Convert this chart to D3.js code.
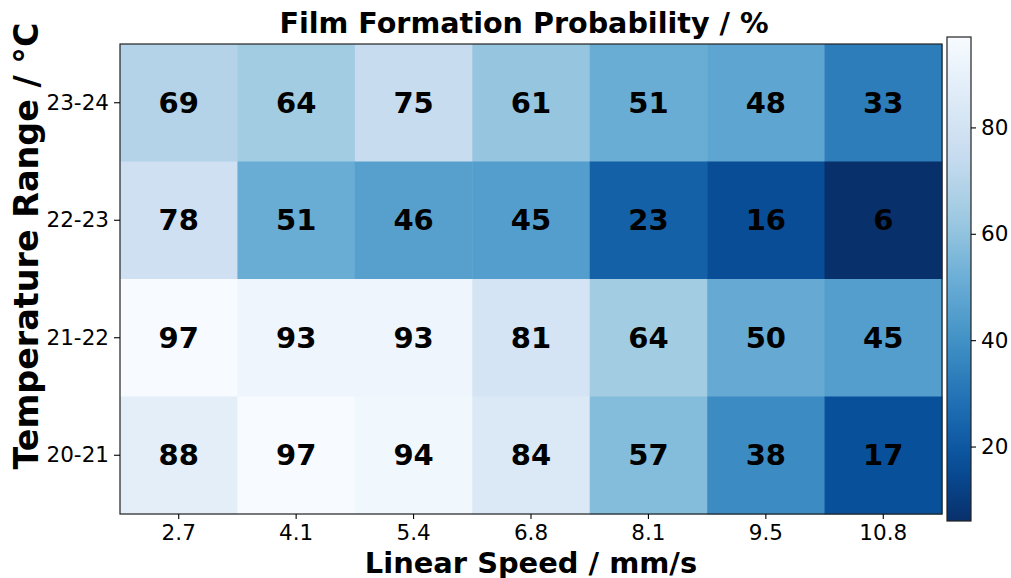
<!DOCTYPE html>
<html>
<head>
<meta charset="utf-8">
<script src="https://cdn.jsdelivr.net/npm/d3@7"></script>
<style>
  html, body { margin: 0; padding: 0; background: #fff; }
  svg { display: block; font-family: "DejaVu Sans", sans-serif; }
</style>
</head>
<body>
<svg id="chart" width="1011" height="578"></svg>
<script>
// Linear speed categories (x) and temperature ranges (y, top to bottom)
const speeds = ["2.7", "4.1", "5.4", "6.8", "8.1", "9.5", "10.8"];
const temps = ["23-24", "22-23", "21-22", "20-21"];

// Film formation probability (%) per temperature row
const row2324 = [69, 64, 75, 61, 51, 48, 33];
const row2223 = [78, 51, 46, 45, 23, 16, 6];
const row2122 = [97, 93, 93, 81, 64, 50, 45];
const row2021 = [88, 97, 94, 84, 57, 38, 17];
const rows = [row2324, row2223, row2122, row2021];

const colorbarTicks = [20, 40, 60, 80];

const svg = d3.select("#chart");
const plot = { left: 120, top: 44, right: 942, bottom: 514 };

const x = d3.scaleBand().domain(speeds).range([plot.left, plot.right]).padding(0);
const y = d3.scaleBand().domain(temps).range([plot.top, plot.bottom]).padding(0);

// Reversed "Blues" colour map, piecewise linear through the nine anchor colours
const blues = ["#f7fbff", "#deebf7", "#c6dbef", "#9ecae1", "#6baed6", "#4292c6", "#2171b5", "#08519c", "#08306b"];
const allVals = rows.flat();
const vmin = d3.min(allVals), vmax = d3.max(allVals);
const t = d3.scaleLinear().domain([vmin, vmax]).range([1, 0]);
const ramp = d3.scaleLinear().domain(d3.range(9).map(i => i / 8)).range(blues).interpolate(d3.interpolateRgb);
const color = v => ramp(t(v));

const cells = [];
rows.forEach((r, i) => r.forEach((v, j) => cells.push({ temp: temps[i], speed: speeds[j], v })));

svg.append("g").selectAll("rect").data(cells).join("rect")
  .attr("x", d => x(d.speed))
  .attr("y", d => y(d.temp))
  .attr("width", x.bandwidth() + 0.5)
  .attr("height", y.bandwidth() + 0.5)
  .attr("fill", d => color(d.v));

svg.append("g").selectAll("text").data(cells).join("text")
  .attr("x", d => x(d.speed) + x.bandwidth() / 2)
  .attr("y", d => y(d.temp) + y.bandwidth() / 2)
  .attr("text-anchor", "middle")
  .attr("dominant-baseline", "central")
  .attr("font-size", 29)
  .attr("font-weight", "bold")
  .attr("fill", "#000")
  .text(d => d.v);

// Frame
svg.append("rect")
  .attr("x", plot.left).attr("y", plot.top)
  .attr("width", plot.right - plot.left).attr("height", plot.bottom - plot.top)
  .attr("fill", "none").attr("stroke", "#222").attr("stroke-width", 1.2);

// Axes
const xAxis = svg.append("g").attr("transform", `translate(0,${plot.bottom})`)
  .call(d3.axisBottom(x).tickSize(5).tickPadding(6));
const yAxis = svg.append("g").attr("transform", `translate(${plot.left},0)`)
  .call(d3.axisLeft(y).tickSize(6).tickPadding(5));
[xAxis, yAxis].forEach(a => {
  a.select(".domain").remove();
  a.selectAll("line").attr("stroke", "#000").attr("stroke-width", 1.1);
  a.selectAll("text").attr("font-size", 21.5).attr("font-family", "DejaVu Sans").attr("fill", "#000");
});

// Titles
svg.append("text")
  .attr("x", 524).attr("y", 33)
  .attr("text-anchor", "middle").attr("font-size", 28.6).attr("font-weight", "bold")
  .text("Film Formation Probability / %");
svg.append("text")
  .attr("x", (plot.left + plot.right) / 2).attr("y", 572.5)
  .attr("text-anchor", "middle").attr("font-size", 28.9).attr("font-weight", "bold")
  .text("Linear Speed / mm/s");
svg.append("text")
  .attr("transform", `translate(38,246) rotate(-90)`)
  .attr("text-anchor", "middle").attr("font-size", 33.4).attr("font-weight", "bold")
  .text("Temperature Range / °C");

// Colour bar
const cb = { left: 947, right: 971, top: 37, bottom: 521 };
const cbScale = d3.scaleLinear().domain([vmin, vmax]).range([cb.bottom, cb.top]);
const defs = svg.append("defs");
const grad = defs.append("linearGradient").attr("id", "cbgrad")
  .attr("x1", 0).attr("y1", 1).attr("x2", 0).attr("y2", 0);
d3.range(0, 1.0001, 0.05).forEach(s => {
  grad.append("stop").attr("offset", s).attr("stop-color", color(vmin + s * (vmax - vmin)));
});
svg.append("rect")
  .attr("x", cb.left).attr("y", cb.top)
  .attr("width", cb.right - cb.left).attr("height", cb.bottom - cb.top)
  .attr("fill", "url(#cbgrad)").attr("stroke", "#222").attr("stroke-width", 1.2);
const cbAxis = svg.append("g").attr("transform", `translate(${cb.right},0)`)
  .call(d3.axisRight(cbScale).tickValues(colorbarTicks).tickSize(5).tickPadding(5));
cbAxis.select(".domain").remove();
cbAxis.selectAll("line").attr("stroke", "#000").attr("stroke-width", 1.1);
cbAxis.selectAll("text").attr("font-size", 21.5).attr("font-family", "DejaVu Sans").attr("fill", "#000");
</script>
</body>
</html>
